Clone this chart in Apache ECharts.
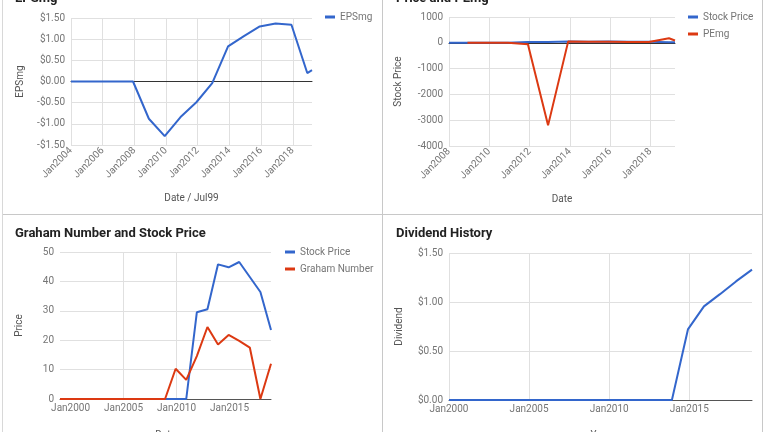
<!DOCTYPE html>
<html>
<head>
<meta charset="utf-8">
<script src="https://cdn.jsdelivr.net/npm/echarts@6/dist/echarts.min.js"></script>
<style>
  html, body { margin: 0; padding: 0; background: #fff; }
  #main { width: 768px; height: 432px; }
</style>
</head>
<body>
<div id="main"></div>
<script>
// EPSmg (top left)
var epsDates = ['2004-01-01', '2004-12-01', '2005-12-01', '2006-12-01', '2007-12-01', '2008-12-01',
  '2009-12-01', '2010-12-01', '2011-12-01', '2012-12-01', '2013-12-01', '2014-12-01',
  '2015-12-01', '2016-12-01', '2017-12-01', '2018-12-01', '2019-03-20'];
var epsValues = [0, 0, 0, 0, 0, -0.88, -1.29, -0.84, -0.49, -0.04, 0.83, 1.07, 1.30, 1.37, 1.34, 0.20, 0.27];

// Price and PEmg (top right)
var priceDates = ['2008-01-01', '2008-12-01', '2009-12-01', '2010-12-01', '2011-12-01', '2012-12-01',
  '2013-12-01', '2014-12-01', '2015-12-01', '2016-12-01', '2017-12-01', '2018-12-01', '2019-03-20'];
var priceValues = [0, 0, 0, 0, 29.5, 30.5, 45.8, 44.8, 46.6, 41.5, 36.4, 23.5, 24];
var peDates = ['2008-12-01', '2009-12-01', '2010-12-01', '2011-12-01', '2012-12-01', '2013-12-01',
  '2014-12-01', '2015-12-01', '2016-12-01', '2017-12-01', '2018-12-01', '2019-03-20'];
var peValues = [0, 0, 0, -60, -3200, 55, 42, 36, 30, 27, 175, 90];

// Graham Number and Stock Price (bottom left)
var grahamDates = ['1999-01-01', '1999-12-01', '2000-12-01', '2001-12-01', '2002-12-01', '2003-12-01',
  '2004-12-01', '2005-12-01', '2006-12-01', '2007-12-01', '2008-12-01', '2009-12-01', '2010-12-01',
  '2011-12-01', '2012-12-01', '2013-12-01', '2014-12-01', '2015-12-01', '2016-12-01', '2017-12-01',
  '2018-12-01'];
var stockValues = [0, 0, 0, 0, 0, 0, 0, 0, 0, 0, 0, 0, 0, 29.5, 30.5, 45.8, 44.8, 46.6, 41.5, 36.4, 23.5];
var grahamValues = [0, 0, 0, 0, 0, 0, 0, 0, 0, 0, 0, 10.3, 6.5, 14.6, 24.5, 18.5, 21.8, 19.8, 17.5, 0, 12];

// Dividend History (bottom right)
var divDates = ['2000-01-01', '2000-12-01', '2001-12-01', '2002-12-01', '2003-12-01', '2004-12-01',
  '2005-12-01', '2006-12-01', '2007-12-01', '2008-12-01', '2009-12-01', '2010-12-01', '2011-12-01',
  '2012-12-01', '2013-12-01', '2014-12-01', '2015-12-01', '2016-12-01', '2017-12-01', '2018-12-01'];
var divValues = [0, 0, 0, 0, 0, 0, 0, 0, 0, 0, 0, 0, 0, 0, 0, 0.72, 0.955, 1.08, 1.21, 1.33];

var fiveYearTicks = [2000, 2005, 2010, 2015];

var BLUE = '#3366cc';
var RED = '#dc3912';
var FONT = 'Roboto';

// date string -> fractional year
function toYear(s) {
  var d = new Date(s + 'T00:00:00Z');
  var y = d.getUTCFullYear();
  var a = Date.UTC(y, 0, 1), b = Date.UTC(y + 1, 0, 1);
  return y + (d.getTime() - a) / (b - a);
}
function pairs(dates, values) {
  return dates.map(function (d, i) { return [toYear(d), values[i]]; });
}
function money(v) {
  return (v < 0 ? '-' : '') + '$' + Math.abs(v).toFixed(2);
}
function plain(v) {
  return String(v);
}

var labelStyle = { color: '#757575', fontSize: 10, fontFamily: FONT };
var nameStyle = { color: '#555', fontSize: 10, fontFamily: FONT };
var gridLine = { color: '#e0e0e0', width: 1 };

function xAxisBase(grid, name, gap) {
  return {
    type: 'value', gridIndex: grid, name: name, nameLocation: 'middle', nameGap: gap,
    nameTextStyle: nameStyle,
    axisLine: { show: false }, axisTick: { show: false },
    splitLine: { show: true, showMaxLine: false, lineStyle: gridLine },
    axisLabel: Object.assign({ formatter: function (v) { return 'Jan' + v; } }, labelStyle)
  };
}
function yAxisBase(grid, name, gap, min, max, interval, fmt) {
  return {
    type: 'value', gridIndex: grid, min: min, max: max, interval: interval,
    name: name, nameLocation: 'middle', nameGap: gap, nameTextStyle: nameStyle,
    axisLine: { show: false }, axisTick: { show: false },
    splitLine: { show: true, lineStyle: gridLine },
    axisLabel: Object.assign({ margin: 6, formatter: fmt }, labelStyle)
  };
}
function lineSeries(name, color, x, y, data) {
  return {
    name: name, type: 'line', xAxisIndex: x, yAxisIndex: y, data: data,
    showSymbol: false, color: color, lineStyle: { width: 2, color: color }, z: 3
  };
}
function legendBox(names, left, top) {
  return {
    data: names, orient: 'vertical', left: left, top: top, padding: 0, itemGap: 7,
    icon: 'rect', itemWidth: 10, itemHeight: 3, textStyle: labelStyle,
    formatter: function (n) { return n.trim(); }
  };
}
function titleBox(text, left, top) {
  return {
    text: text, left: left, top: top, padding: 0,
    textStyle: { fontSize: 13, fontWeight: 'bold', color: '#222', fontFamily: FONT }
  };
}

var x0 = xAxisBase(0, 'Date / Jul99', 48);
x0.min = 2004; x0.max = 'dataMax'; x0.interval = 2;
x0.axisLabel.rotate = 45; x0.axisLabel.margin = 4; x0.axisLabel.showMaxLabel = false;

var x1 = xAxisBase(1, 'Date', 48);
x1.min = 2008; x1.max = 'dataMax'; x1.interval = 2;
x1.axisLabel.rotate = 45; x1.axisLabel.margin = 4; x1.axisLabel.showMaxLabel = false;

var x2 = xAxisBase(2, 'Date', 31);
x2.min = 'dataMin'; x2.max = 'dataMax';
x2.axisLine = { show: true, lineStyle: { color: '#555', width: 1 } };
x2.axisTick = { show: false, customValues: fiveYearTicks };
x2.axisLabel.customValues = fiveYearTicks;
x2.axisLabel.margin = 4;
x2.splitLine.showMinLine = false;

var x3 = xAxisBase(3, 'Year', 30);
x3.min = 2000; x3.max = 'dataMax'; x3.interval = 5;
x3.axisLine = { show: true, lineStyle: { color: '#555', width: 1 } };
x3.axisLabel.margin = 4; x3.axisLabel.showMaxLabel = false;

// extra axes that only draw the dark zero baseline in the top charts
function baselineAxis(grid, yIdx, min) {
  return {
    type: 'value', gridIndex: grid, min: min, max: 'dataMax',
    axisLine: { show: true, onZero: true, onZeroAxisIndex: yIdx, lineStyle: { color: '#333', width: 1 } },
    axisTick: { show: false }, axisLabel: { show: false }, splitLine: { show: false }
  };
}

var option = {
  animation: false,
  backgroundColor: '#fff',
  textStyle: { fontFamily: FONT },
  title: [
    titleBox('EPSmg', 15, -8),
    titleBox('Price and PEmg', 396, -8),
    titleBox('Graham Number and Stock Price', 15, 227),
    titleBox('Dividend History', 396, 227)
  ],
  legend: [
    legendBox(['EPSmg'], 325, 12),
    legendBox(['Stock Price', 'PEmg'], 688, 12),
    legendBox(['Stock Price ', 'Graham Number'], 285, 247)
  ],
  grid: [
    { left: 71, top: 18, width: 241, height: 127, outerBoundsMode: 'none' },
    { left: 449, top: 17, width: 226, height: 129, outerBoundsMode: 'none' },
    { left: 60, top: 252, width: 211, height: 147, outerBoundsMode: 'none' },
    { left: 449, top: 253, width: 303, height: 147, outerBoundsMode: 'none' }
  ],
  xAxis: [x0, x1, x2, x3, baselineAxis(0, 0, 2004), baselineAxis(1, 1, 2008)],
  yAxis: [
    yAxisBase(0, 'EPSmg', 46, -1.5, 1.5, 0.5, money),
    yAxisBase(1, 'Stock Price', 46, -4000, 1000, 1000, plain),
    yAxisBase(2, 'Price', 36, 0, 50, 10, plain),
    yAxisBase(3, 'Dividend', 45, 0, 1.5, 0.5, money)
  ],
  graphic: [
    { type: 'line', silent: true, shape: { x1: 382.5, y1: 0, x2: 382.5, y2: 432 }, style: { stroke: '#c8c8c8', lineWidth: 1 } },
    { type: 'line', silent: true, shape: { x1: 2.5, y1: 214.5, x2: 762.5, y2: 214.5 }, style: { stroke: '#c8c8c8', lineWidth: 1 } },
    { type: 'line', silent: true, shape: { x1: 2.5, y1: 0, x2: 2.5, y2: 432 }, style: { stroke: '#d8d8d8', lineWidth: 1 } },
    { type: 'line', silent: true, shape: { x1: 762.5, y1: 0, x2: 762.5, y2: 432 }, style: { stroke: '#c8c8c8', lineWidth: 1 } }
  ],
  series: [
    lineSeries('EPSmg', BLUE, 0, 0, pairs(epsDates, epsValues)),
    lineSeries('Stock Price', BLUE, 1, 1, pairs(priceDates, priceValues)),
    lineSeries('PEmg', RED, 1, 1, pairs(peDates, peValues)),
    lineSeries('Stock Price ', BLUE, 2, 2, pairs(grahamDates, stockValues)),
    lineSeries('Graham Number', RED, 2, 2, pairs(grahamDates, grahamValues)),
    lineSeries('Dividend', BLUE, 3, 3, pairs(divDates, divValues))
  ]
};

var chart = echarts.init(document.getElementById('main'));
chart.setOption(option);
</script>
</body>
</html>
